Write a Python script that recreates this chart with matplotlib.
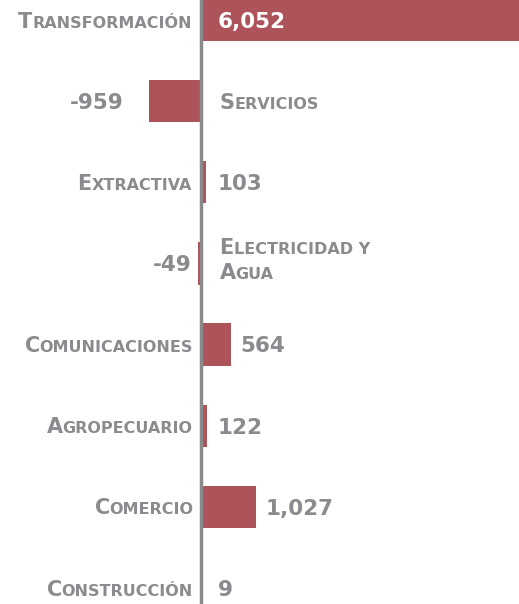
import matplotlib
matplotlib.use('Agg')
import matplotlib.pyplot as plt
from matplotlib.font_manager import FontProperties

categories = ["Transformación", "Servicios", "Extractiva", "Electricidad y\nAgua",
              "Comunicaciones", "Agropecuario", "Comercio", "Construcción"]
values = [6052, -959, 103, -49, 564, 122, 1027, 9]

BAR = '#AD535A'
GRAY = '#8B8B8F'
LINE = '#8A8A8A'
W, H, DPI = 519, 604, 100
FONT = 'DejaVu Sans'

fig = plt.figure(figsize=(W / DPI, H / DPI), dpi=DPI)
ax = fig.add_axes([0, 0, 1, 1])
ax.set_xlim(-3730, 5925)
ax.set_ylim(7.197, -0.246)
ax.axis('off')

pos = list(range(len(categories)))
ax.barh(pos, values, height=0.52, color=BAR, edgecolor='none', zorder=2)
ax.axvline(0, color=LINE, lw=2.5, zorder=3)

renderer = fig.canvas.get_renderer()
big_fp = FontProperties(family=FONT, weight='bold', size=15)
small_fp = FontProperties(family=FONT, weight='bold', size=11.5)
val_fp = FontProperties(family=FONT, weight='bold', size=15.5)
BIG_CAP = 15.2
VAL_H = 15.7
LINE_SP = 25


def text_w(s, fp):
    a = renderer.get_text_width_height_descent('X' + s + 'X', fp, ismath=False)[0]
    b = renderer.get_text_width_height_descent('XX', fp, ismath=False)[0]
    return a - b


def runs(s):
    out = []
    for ch in s:
        big = ch.isupper()
        if out and out[-1][0] == big:
            out[-1][1] += ch.upper()
        else:
            out.append([big, ch.upper()])
    return out


def px_per_unit():
    p0 = ax.transData.transform((0, 0))[0]
    p1 = ax.transData.transform((1000, 0))[0]
    return (p1 - p0) / 1000.0


def smallcaps(label, y, dx, ha):
    lines = label.split('\n')
    n = len(lines)
    for k, line in enumerate(lines):
        rr = runs(line)
        widths = [text_w(t, big_fp if b else small_fp) for b, t in rr]
        total = sum(widths)
        x0 = dx - total if ha == 'right' else dx
        base = -BIG_CAP / 2 - (k - (n - 1) / 2) * LINE_SP + (4.5 if n > 1 else 0)
        cur = x0
        for (b, t), w in zip(rr, widths):
            ax.annotate(t, xy=(0, y), xytext=(cur, base), textcoords='offset pixels',
                        ha='left', va='baseline', color=GRAY,
                        fontproperties=big_fp if b else small_fp, zorder=4)
            cur += w


ppu = px_per_unit()
for i, (cat, v) in enumerate(zip(categories, values)):
    bar_px = abs(v) * ppu
    if v >= 0:
        smallcaps(cat, i, -8.5, 'right')
        if bar_px > 250:
            ax.annotate(f"{v:,}", xy=(0, i), xytext=(17.5, -VAL_H / 2), textcoords='offset pixels',
                        ha='left', va='baseline', color='white', fontproperties=val_fp, zorder=4)
        else:
            off = 17.5 if bar_px < 10 else bar_px + 10
            ax.annotate(f"{v:,}", xy=(0, i), xytext=(off, -VAL_H / 2), textcoords='offset pixels',
                        ha='left', va='baseline', color=GRAY, fontproperties=val_fp, zorder=4)
    else:
        smallcaps(cat, i, 19, 'left')
        off = -8.5 if bar_px < 10 else -bar_px - 25
        ax.annotate(f"{v:,}", xy=(0, i), xytext=(off, -VAL_H / 2), textcoords='offset pixels',
                    ha='right', va='baseline', color=GRAY, fontproperties=val_fp, zorder=4)

fig.savefig('out.png', dpi=DPI)
